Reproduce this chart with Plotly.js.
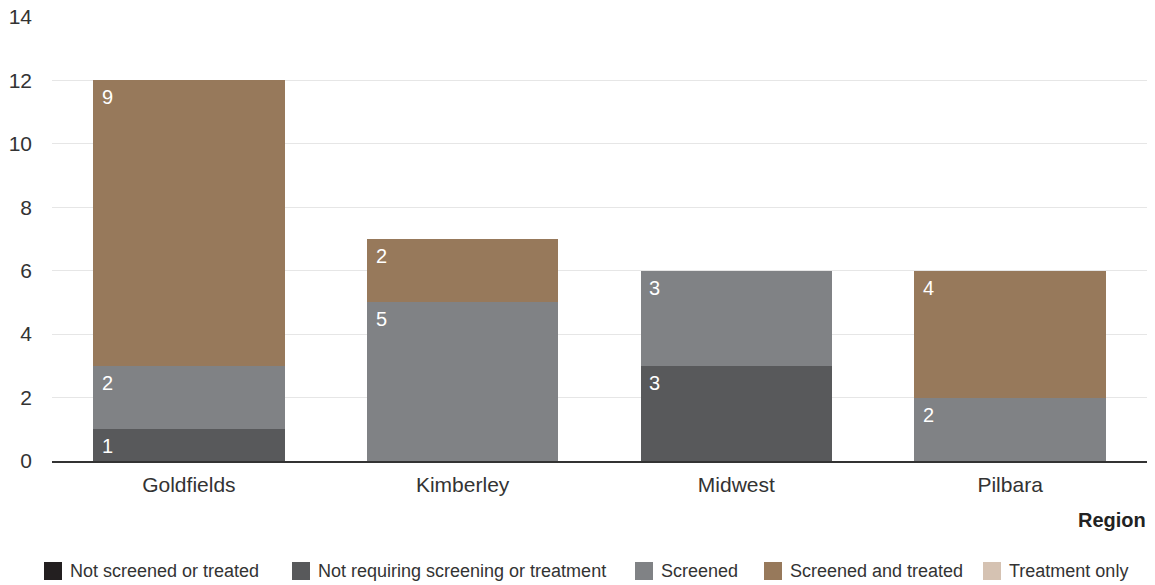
<!DOCTYPE html>
<html>
<head>
<meta charset="utf-8">
<script src="https://cdn.plot.ly/plotly-3.0.1.min.js"></script>
<style>html,body{margin:0;padding:0;background:#fff;}#chart{width:1155px;height:585px;}</style>
</head>
<body>
<div id="chart"></div>
<script>
const regions = ["Goldfields", "Kimberley", "Midwest", "Pilbara"];
const seriesNames = ["Not screened or treated", "Not requiring screening or treatment", "Screened", "Screened and treated", "Treatment only"];
const notScreened = [0, 0, 0, 0];
const notRequiring = [1, 0, 3, 0];
const screened = [2, 5, 3, 2];
const screenedTreated = [9, 2, 0, 4];
const treatmentOnly = [0, 0, 0, 0];
const colors = ["#231f20", "#58595b", "#808285", "#97795b", "#d5c2b2"];

const values = [notScreened, notRequiring, screened, screenedTreated, treatmentOnly];
const font = "Liberation Sans, Arial, Helvetica, sans-serif";

// plot geometry (pixels)
const W = 1155, H = 585;
const M = {l: 52, r: 8, t: 17, b: 124};
const PW = W - M.l - M.r, PH = H - M.t - M.b;
const px2x = (px) => (px - M.l) / PW;
const py2y = (py) => (H - M.b - py) / PH;

const traces = values.map((v, i) => ({
  type: "bar",
  name: seriesNames[i],
  x: regions,
  y: v,
  marker: {color: colors[i], line: {width: 0}},
  hoverinfo: "none",
  showlegend: false
}));

const annotations = [];
const cum = regions.map(() => 0);
values.forEach((v) => {
  v.forEach((val, j) => {
    cum[j] += val;
    if (val > 0) {
      annotations.push({
        x: regions[j], y: cum[j], xref: "x", yref: "y",
        text: String(val), showarrow: false,
        xanchor: "left", yanchor: "top",
        xshift: -89, yshift: -4,
        font: {family: font, size: 20, color: "#ffffff"}
      });
    }
  });
});
annotations.push({
  x: px2x(1148), y: py2y(520), xref: "paper", yref: "paper",
  text: "<b>Region</b>", showarrow: false,
  xanchor: "right", yanchor: "middle",
  font: {family: font, size: 20, color: "#222222"}
});

// custom legend (squares + labels)
const legendLeft = [44, 292, 635, 764, 983];
const shapes = [];
seriesNames.forEach((name, i) => {
  shapes.push({
    type: "rect", xref: "paper", yref: "paper",
    x0: px2x(legendLeft[i]), x1: px2x(legendLeft[i] + 18),
    y0: py2y(580), y1: py2y(562),
    fillcolor: colors[i], line: {width: 0}
  });
  annotations.push({
    x: px2x(legendLeft[i] + 24), y: py2y(571), xref: "paper", yref: "paper",
    text: name, showarrow: false, xanchor: "left", yanchor: "middle",
    font: {family: font, size: 18, color: "#333333"}
  });
});

const layout = {
  width: W, height: H,
  margin: M,
  barmode: "stack",
  bargap: 0.3,
  paper_bgcolor: "#ffffff",
  plot_bgcolor: "#ffffff",
  font: {family: font, color: "#333333"},
  showlegend: false,
  xaxis: {
    type: "category",
    showline: true, linecolor: "#333333", linewidth: 1.5,
    ticks: "", ticklabelstandoff: 4,
    tickfont: {family: font, size: 21, color: "#333333"},
    showgrid: false, zeroline: false, automargin: false
  },
  yaxis: {
    range: [0, 14], dtick: 2, tick0: 0,
    showgrid: true, gridcolor: "#e6e6e6", gridwidth: 1,
    zeroline: false, showline: false, ticks: "",
    ticklabelstandoff: 19, automargin: false,
    tickfont: {family: font, size: 21, color: "#333333"}
  },
  shapes: shapes,
  annotations: annotations
};

Plotly.newPlot("chart", traces, layout, {displayModeBar: false, staticPlot: true});
</script>
</body>
</html>
